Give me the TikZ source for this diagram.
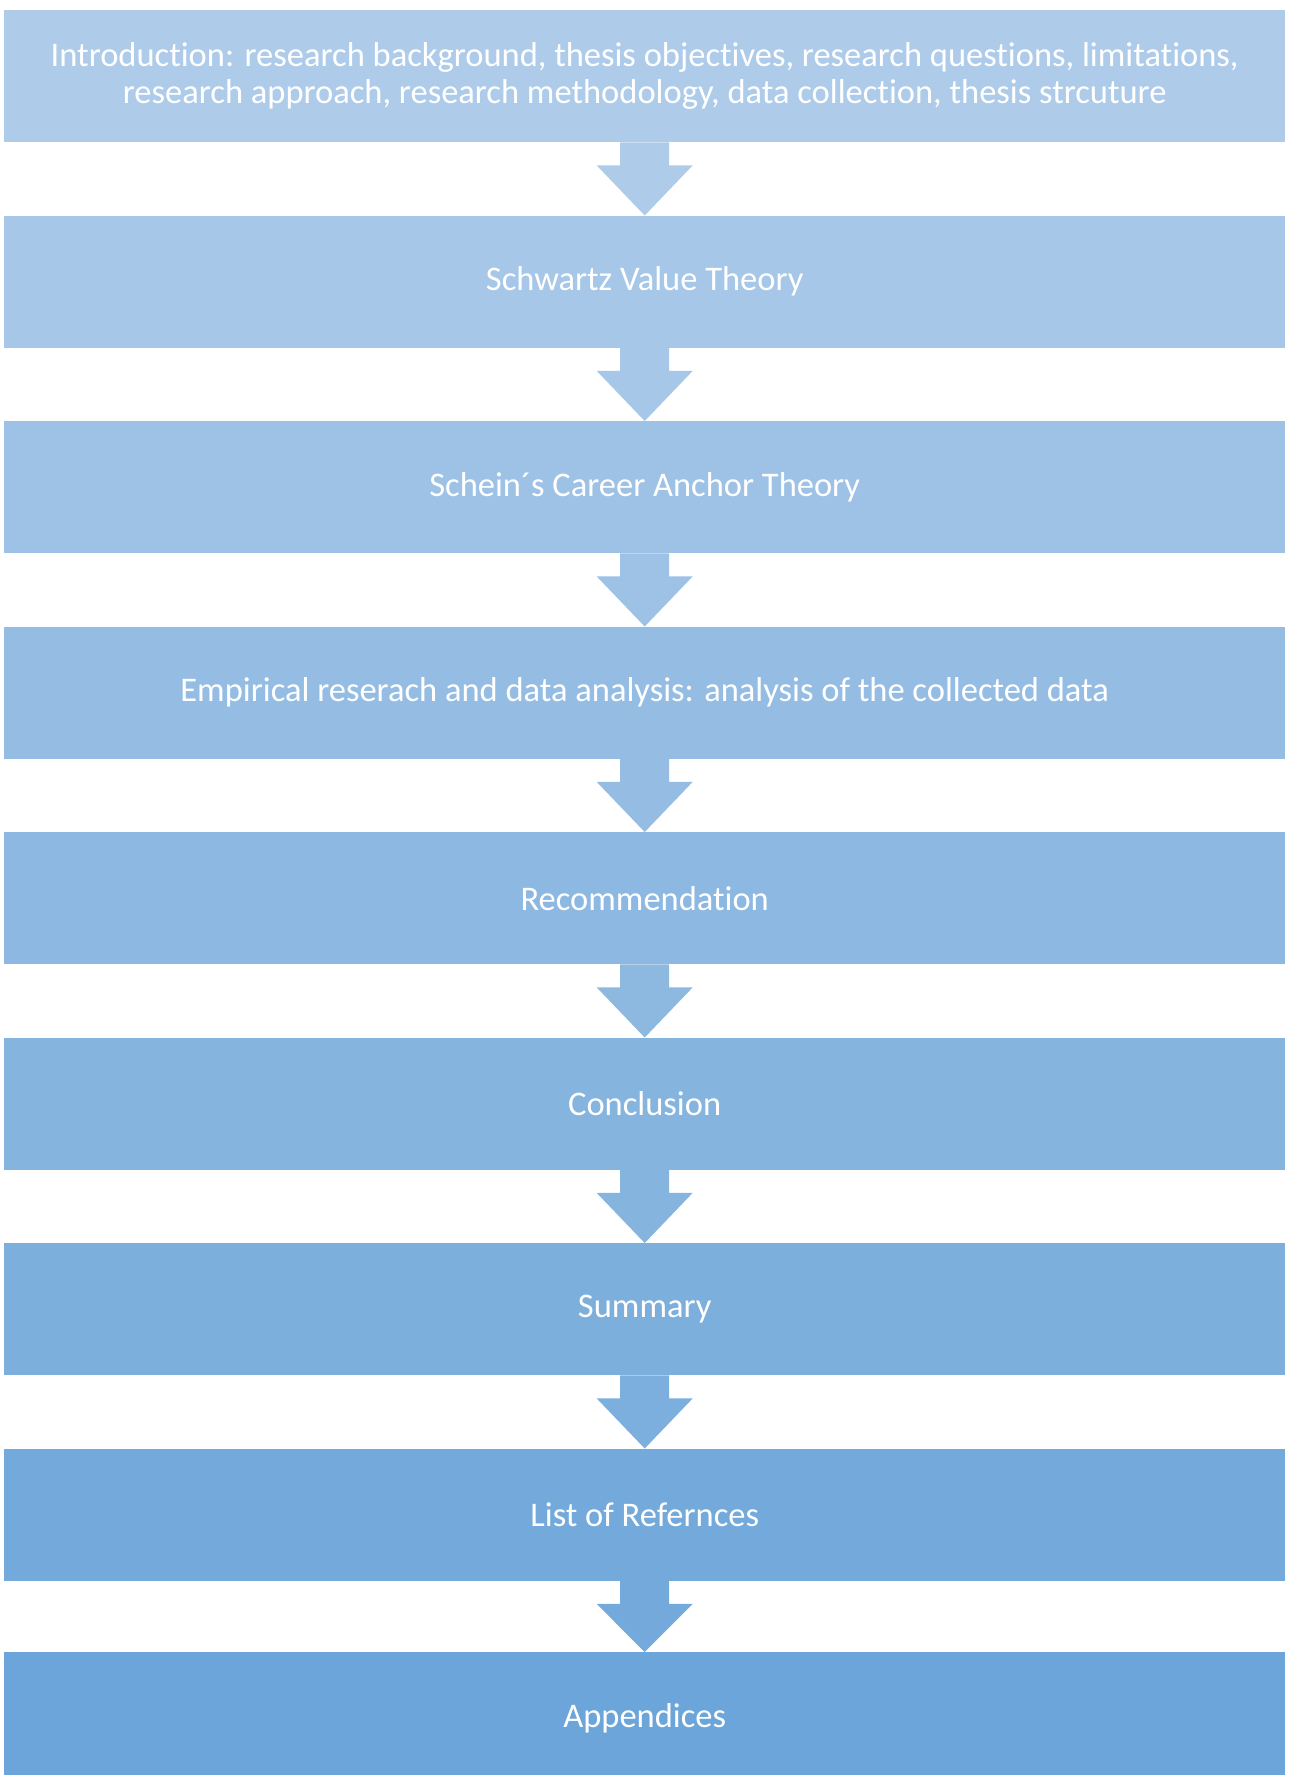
\documentclass[tikz,border=0pt]{standalone}
\usepackage{fontspec}
\setmainfont{Carlito}[Ligatures=NoCommon]
\usetikzlibrary{calc}

% shades running from the first to the last stage
\definecolor{topblue}{RGB}{174,204,234}
\definecolor{botblue}{RGB}{108,165,217}
\colorlet{s1}{topblue}
\colorlet{s2}{botblue!12.5!topblue}
\colorlet{s3}{botblue!25!topblue}
\colorlet{s4}{botblue!37.5!topblue}
\colorlet{s5}{botblue!50!topblue}
\colorlet{s6}{botblue!62.5!topblue}
\colorlet{s7}{botblue!75!topblue}
\colorlet{s8}{botblue!87.5!topblue}
\colorlet{s9}{botblue}

\tikzset{
  stage/.style={fill=#1, draw=none, anchor=north west, inner sep=0pt,
    minimum width=1281pt, minimum height=132pt, text=white, align=center,
    font=\fontsize{34.5}{37.5}\selectfont},
}

% block arrow from the bottom of one stage to the top of the next
\newcommand\stagearrow[3]{%
  \fill[#3] ($(#1.south)+(-24.5,0)$) -- ($(#1.south)+(-24.5,23)$)
    -- ($(#1.south)+(-48,23)$) -- (#2.north)
    -- ($(#1.south)+(48,23)$) -- ($(#1.south)+(24.5,23)$)
    -- ($(#1.south)+(24.5,0)$) -- cycle;}

\begin{document}
\begin{tikzpicture}[x=1pt,y=-1pt]
  \clip (0,0) rectangle (1291,1775);
  \fill[white] (0,0) rectangle (1291,1775);

  \node[stage=s1] (b1) at (4,10)
    {Introduction: research background, thesis objectives, research questions, limitations,\\
     research approach, research methodology, data collection, thesis strcuture};
  \node[stage=s2] (b2) at (4,215.5) {Schwartz Value Theory};
  \node[stage=s3] (b3) at (4,421) {Schein´s Career Anchor Theory};
  \node[stage=s4] (b4) at (4,626.5) {Empirical reserach and data analysis: analysis of the collected data};
  \node[stage=s5] (b5) at (4,832) {Recommendation};
  \node[stage=s6] (b6) at (4,1037.5) {Conclusion};
  \node[stage=s7] (b7) at (4,1243) {Summary};
  \node[stage=s8] (b8) at (4,1448.5) {List of Refernces};
  \node[stage=s9] (b9) at (4,1652) {Appendices};

  \stagearrow{b1}{b2}{s1}
  \stagearrow{b2}{b3}{s2}
  \stagearrow{b3}{b4}{s3}
  \stagearrow{b4}{b5}{s4}
  \stagearrow{b5}{b6}{s5}
  \stagearrow{b6}{b7}{s6}
  \stagearrow{b7}{b8}{s7}
  \stagearrow{b8}{b9}{s8}
\end{tikzpicture}
\end{document}
